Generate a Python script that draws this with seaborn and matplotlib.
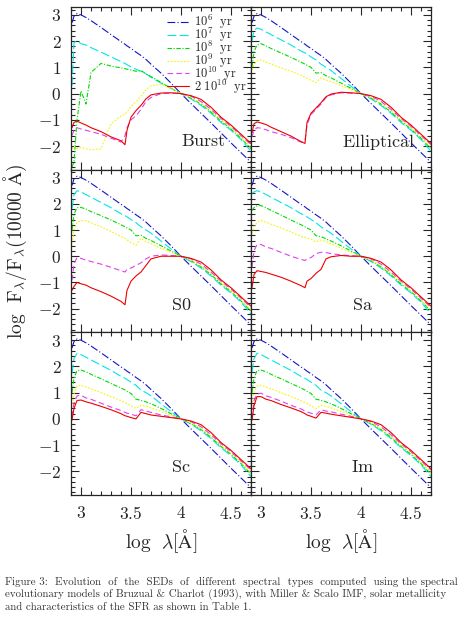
import matplotlib
matplotlib.use("Agg")
import matplotlib.pyplot as plt
from matplotlib.ticker import MultipleLocator, FuncFormatter
import pandas as pd
import seaborn as sns

# log lambda grid (UV/optical part, then the common red tail)
X_UV = [2.91, 2.93, 2.96, 3.0, 3.05, 3.1, 3.2, 3.3, 3.4, 3.44, 3.46, 3.5, 3.55, 3.6, 3.65, 3.7, 3.8, 3.9]
X_TAIL = [4.0, 4.1, 4.2, 4.3, 4.4, 4.5, 4.6, 4.7]

AGE_LABELS = [r"$\mathrm{10^{6}\ \ yr}$", r"$\mathrm{10^{7}\ \ yr}$", r"$\mathrm{10^{8}\ \ yr}$",
              r"$\mathrm{10^{9}\ \ yr}$", r"$\mathrm{10^{10}\ \ yr}$", r"$\mathrm{2\ 10^{10}\ \ yr}$"]
COLORS = ["#1414c8", "#00e6e6", "#00dc00", "#f5f500", "#e040f0", "#ee0000"]
DASHES = [(7, 2, 1, 2), (8, 3), (4, 1.5, 1, 1.5), (1.5, 1.5), (5, 3), ""]

BLUE_UV = [2.70, 2.95, 3.05, 3.00, 2.90, 2.78, 2.52, 2.25, 1.98, 1.88, 1.82, 1.72, 1.58, 1.45, 1.30, 1.12, 0.78, 0.40]

TAIL_BLUE = [0.00, -0.38, -0.75, -1.12, -1.50, -1.88, -2.25, -2.62]
TAIL_CYAN = [0.00, -0.20, -0.45, -0.75, -1.10, -1.40, -1.75, -2.20]
TAIL_GREEN = [0.00, -0.17, -0.40, -0.70, -1.05, -1.35, -1.70, -2.10]
TAIL_YELLOW = [0.00, -0.15, -0.37, -0.65, -1.00, -1.30, -1.65, -2.05]
TAIL_MAGENTA = [0.00, -0.10, -0.30, -0.60, -0.95, -1.25, -1.60, -1.95]
TAIL_RED = [0.00, -0.08, -0.22, -0.52, -0.90, -1.20, -1.55, -1.90]

BURST_CYAN = [0.30, 1.95, 2.00, 1.90, 1.85, 1.75, 1.58, 1.40, 1.22, 1.15, 1.10, 1.02, 0.93, 0.85, 0.75, 0.62, 0.40, 0.20]
BURST_GREEN = [-2.80, -2.60, -1.00, 0.10, -0.40, 0.80, 1.15, 1.05, 0.98, 0.95, 0.93, 0.90, 0.85, 0.88, 0.75, 0.65, 0.42, 0.20]
BURST_YELLOW = [-2.10, -2.00, -2.10, -2.05, -2.10, -2.15, -2.10, -1.15, -0.85, -0.80, -0.70, -0.50, -0.30, -0.10, 0.15, 0.30, 0.35, 0.20]
BURST_MAGENTA = [-1.60, -1.40, -1.30, -1.35, -1.40, -1.45, -1.55, -1.70, -1.85, -1.60, -1.30, -1.00, -0.85, -0.60, -0.30, -0.15, 0.00, 0.02]
BURST_RED = [-1.30, -1.10, -1.05, -1.12, -1.20, -1.30, -1.45, -1.65, -1.80, -1.95, -1.40, -0.90, -0.65, -0.45, -0.20, -0.05, 0.02, 0.03]

ELL_CYAN = [2.00, 2.40, 2.50, 2.45, 2.35, 2.25, 2.05, 1.85, 1.62, 1.55, 1.50, 1.40, 1.28, 1.12, 1.00, 0.88, 0.58, 0.28]
ELL_GREEN = [1.00, 1.60, 1.85, 1.90, 1.82, 1.72, 1.55, 1.38, 1.20, 1.12, 1.08, 1.00, 0.78, 0.80, 0.68, 0.60, 0.40, 0.20]
ELL_YELLOW = [0.90, 1.10, 1.25, 1.28, 1.20, 1.12, 0.98, 0.85, 0.70, 0.62, 0.58, 0.50, 0.42, 0.60, 0.52, 0.45, 0.30, 0.15]
ELL_MAGENTA = [-1.65, -1.40, -1.30, -1.32, -1.38, -1.45, -1.55, -1.68, -1.85, -1.80, -1.20, -0.80, -0.60, -0.40, -0.15, -0.05, 0.03, 0.02]
ELL_RED = [-1.50, -1.15, -1.08, -1.12, -1.18, -1.28, -1.45, -1.62, -1.83, -1.90, -1.10, -0.75, -0.55, -0.35, -0.12, -0.02, 0.05, 0.03]

S0_CYAN = [1.82, 2.35, 2.50, 2.45, 2.35, 2.25, 2.05, 1.85, 1.62, 1.55, 1.50, 1.40, 1.28, 1.12, 1.00, 0.88, 0.58, 0.28]
S0_GREEN = [0.98, 1.60, 1.85, 1.86, 1.80, 1.70, 1.55, 1.38, 1.20, 1.12, 1.08, 1.00, 0.78, 0.80, 0.68, 0.60, 0.40, 0.20]
S0_YELLOW = [0.49, 1.00, 1.30, 1.35, 1.36, 1.28, 1.12, 0.95, 0.75, 0.68, 0.62, 0.52, 0.42, 0.68, 0.55, 0.48, 0.30, 0.15]
S0_MAGENTA = [-0.92, -0.30, -0.05, -0.08, -0.15, -0.20, -0.30, -0.42, -0.55, -0.60, -0.50, -0.45, -0.35, -0.25, -0.10, 0.00, 0.05, 0.03]
S0_RED = [-1.30, -1.15, -1.00, -1.05, -1.10, -1.20, -1.35, -1.52, -1.72, -1.85, -1.30, -0.95, -0.75, -0.60, -0.35, -0.10, 0.00, 0.00]

SA_CYAN = [2.40, 2.45, 2.50, 2.45, 2.35, 2.25, 2.05, 1.85, 1.62, 1.55, 1.50, 1.40, 1.28, 1.12, 1.00, 0.88, 0.58, 0.28]
SA_GREEN = [1.74, 1.85, 1.92, 1.93, 1.85, 1.75, 1.57, 1.38, 1.20, 1.12, 1.08, 1.00, 0.78, 0.75, 0.66, 0.58, 0.40, 0.20]
SA_YELLOW = [0.87, 1.10, 1.30, 1.36, 1.30, 1.22, 1.08, 0.92, 0.75, 0.72, 0.70, 0.65, 0.55, 0.62, 0.55, 0.48, 0.30, 0.15]
SA_MAGENTA = [-0.43, 0.20, 0.45, 0.45, 0.35, 0.30, 0.15, 0.00, -0.12, -0.16, -0.10, -0.05, 0.10, 0.15, 0.14, 0.10, 0.05, 0.02]
SA_RED = [-1.20, -0.70, -0.55, -0.58, -0.62, -0.68, -0.80, -0.95, -1.12, -1.20, -0.95, -0.85, -0.65, -0.50, -0.10, -0.02, 0.03, 0.00]

SC_CYAN = [1.74, 2.30, 2.50, 2.45, 2.35, 2.25, 2.05, 1.85, 1.62, 1.55, 1.50, 1.40, 1.28, 1.10, 1.00, 0.88, 0.58, 0.28]
SC_GREEN = [1.00, 1.55, 1.84, 1.86, 1.80, 1.70, 1.53, 1.35, 1.18, 1.10, 1.05, 0.97, 0.75, 0.71, 0.65, 0.58, 0.40, 0.20]
SC_YELLOW = [0.45, 0.95, 1.25, 1.28, 1.22, 1.15, 1.00, 0.85, 0.70, 0.62, 0.58, 0.50, 0.40, 0.52, 0.48, 0.42, 0.28, 0.14]
SC_MAGENTA = [0.10, 0.60, 0.88, 0.90, 0.80, 0.75, 0.60, 0.45, 0.32, 0.25, 0.22, 0.18, 0.12, 0.35, 0.30, 0.25, 0.15, 0.08]
SC_RED = [-0.05, 0.40, 0.70, 0.72, 0.65, 0.60, 0.48, 0.35, 0.20, 0.12, 0.10, 0.05, 0.00, 0.25, 0.20, 0.15, 0.10, 0.05]

IM_CYAN = [1.78, 2.30, 2.50, 2.45, 2.35, 2.25, 2.05, 1.85, 1.62, 1.55, 1.50, 1.40, 1.28, 1.10, 1.00, 0.88, 0.58, 0.28]
IM_GREEN = [1.00, 1.55, 1.84, 1.86, 1.80, 1.70, 1.53, 1.35, 1.18, 1.10, 1.05, 0.97, 0.75, 0.71, 0.65, 0.58, 0.40, 0.20]
IM_YELLOW = [0.50, 1.00, 1.25, 1.28, 1.22, 1.15, 1.00, 0.85, 0.70, 0.62, 0.58, 0.50, 0.40, 0.52, 0.48, 0.42, 0.28, 0.14]
IM_MAGENTA = [0.00, 0.70, 0.95, 0.98, 0.88, 0.82, 0.68, 0.52, 0.38, 0.30, 0.27, 0.22, 0.15, 0.35, 0.30, 0.27, 0.18, 0.10]
IM_RED = [-0.05, 0.50, 0.85, 0.85, 0.75, 0.70, 0.55, 0.42, 0.28, 0.20, 0.15, 0.10, 0.03, 0.25, 0.22, 0.18, 0.12, 0.06]

PANEL_NAMES = ["Burst", "Elliptical", "S0", "Sa", "Sc", "Im"]
PANEL_LABEL_POS = [(4.22, -1.8), (4.18, -1.83), (4.0, -1.87), (4.01, -1.87), (4.0, -1.83), (4.02, -1.83)]
TAILS = [TAIL_BLUE, TAIL_CYAN, TAIL_GREEN, TAIL_YELLOW, TAIL_MAGENTA, TAIL_RED]
PANEL_CURVES = [
    [BLUE_UV, BURST_CYAN, BURST_GREEN, BURST_YELLOW, BURST_MAGENTA, BURST_RED],
    [BLUE_UV, ELL_CYAN, ELL_GREEN, ELL_YELLOW, ELL_MAGENTA, ELL_RED],
    [BLUE_UV, S0_CYAN, S0_GREEN, S0_YELLOW, S0_MAGENTA, S0_RED],
    [BLUE_UV, SA_CYAN, SA_GREEN, SA_YELLOW, SA_MAGENTA, SA_RED],
    [BLUE_UV, SC_CYAN, SC_GREEN, SC_YELLOW, SC_MAGENTA, SC_RED],
    [BLUE_UV, IM_CYAN, IM_GREEN, IM_YELLOW, IM_MAGENTA, IM_RED],
]

CAPTION = ("Figure 3:  Evolution  of  the  SEDs  of  different  spectral  types  computed  using the spectral\n"
           "evolutionary models of Bruzual & Charlot (1993), with Miller & Scalo IMF, solar metallicity\n"
           "and characteristics of the SFR as shown in Table 1.")

sns.set_style("ticks")
plt.rcParams["font.family"] = ["serif"]
plt.rcParams["font.serif"] = ["cmr10", "DejaVu Serif"]
plt.rcParams["mathtext.fontset"] = "cm"
plt.rcParams["axes.linewidth"] = 0.9


def panel_frame(curves):
    rows = []
    for label, uv, tail in zip(AGE_LABELS, curves, TAILS):
        for x, y in zip(X_UV + X_TAIL, uv + tail):
            rows.append({"x": x, "y": y, "age": label})
    return pd.DataFrame(rows)


fig, axes = plt.subplots(3, 2, figsize=(4.59, 6.22), dpi=100, sharex=True, sharey=True)
fig.subplots_adjust(left=71 / 459, right=431 / 459, top=1 - 7 / 622, bottom=1 - 495 / 622,
                    wspace=0, hspace=0)

palette = dict(zip(AGE_LABELS, COLORS))
dashes = dict(zip(AGE_LABELS, DASHES))
fmt = FuncFormatter(lambda v, p: f"${v:g}$")

for i, ax in enumerate(axes.flat):
    df = panel_frame(PANEL_CURVES[i])
    sns.lineplot(data=df, x="x", y="y", hue="age", style="age", palette=palette, dashes=dashes,
                 estimator=None, sort=False, lw=0.8, ax=ax, legend=(i == 0))
    ax.set_xlim(2.9, 4.7)
    ax.set_ylim(-2.9, 3.3)
    ax.xaxis.set_major_locator(MultipleLocator(0.5))
    ax.xaxis.set_minor_locator(MultipleLocator(0.1))
    ax.yaxis.set_major_locator(MultipleLocator(1))
    ax.yaxis.set_minor_locator(MultipleLocator(0.2))
    ax.xaxis.set_major_formatter(fmt)
    ax.yaxis.set_major_formatter(fmt)
    ax.tick_params(which="both", direction="in", top=True, right=True, width=0.8,
                   labelsize=12.5, pad=7)
    ax.tick_params(which="major", length=6)
    ax.tick_params(which="minor", length=3)
    ax.set_xlabel("")
    ax.set_ylabel("")
    lx, ly = PANEL_LABEL_POS[i]
    ax.text(lx, ly, r"$\mathrm{" + PANEL_NAMES[i] + "}$", ha="center", va="center", fontsize=13)
    if i >= 4:
        ax.set_xlabel(r"$\mathrm{log\ \ \lambda[\AA]}$", fontsize=14, labelpad=4)

sns.move_legend(axes[0, 0], "upper right", bbox_to_anchor=(1.02, 1.01), frameon=False, title=None,
                fontsize=9, handlelength=1.8, handletextpad=0.4, labelspacing=-0.42, borderaxespad=0.2)

fig.text(15 / 459, 1 - 251 / 622, r"$\mathrm{log\ \ F_\lambda/F_\lambda(10000\ \AA)}$",
         rotation=90, ha="center", va="center", fontsize=14)
fig.text(5 / 459, 1 - 577 / 622, CAPTION, ha="left", va="top", fontsize=7.85, color="#333333",
         linespacing=1.25)

fig.savefig("out.png", dpi=100)
